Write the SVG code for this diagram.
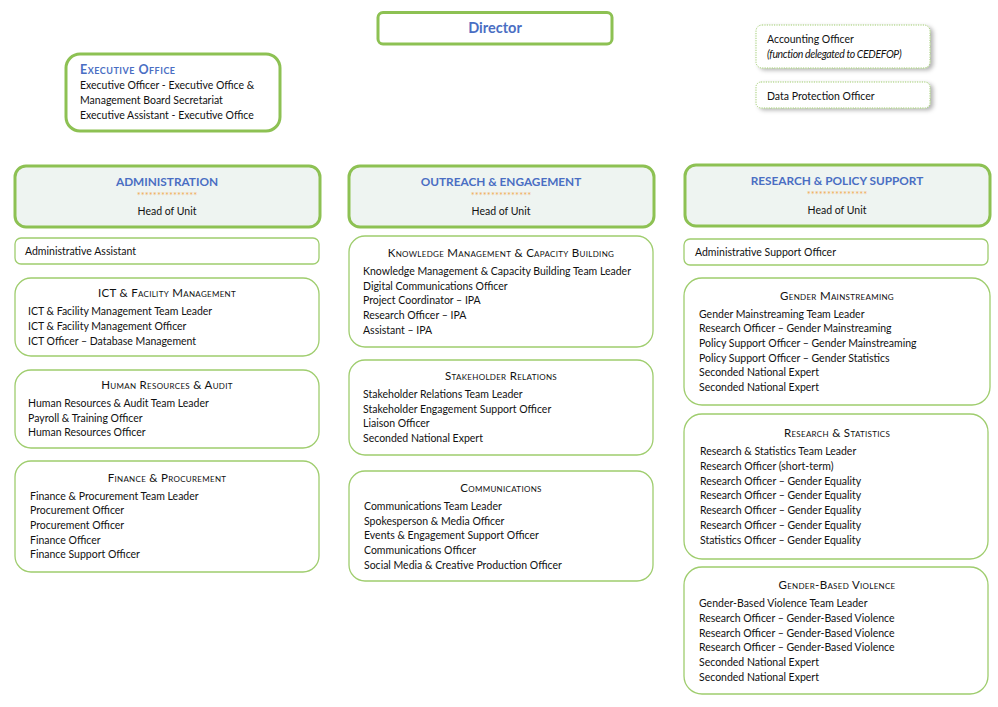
<svg xmlns="http://www.w3.org/2000/svg" width="998" height="707" viewBox="0 0 998 707">
<defs>
<filter id="sh" x="-10%" y="-20%" width="125%" height="160%">
<feDropShadow dx="3" dy="2" stdDeviation="2" flood-color="#000" flood-opacity="0.3"/>
</filter>
</defs>
<style>
text{font-family:Lato,"Liberation Sans",sans-serif;font-size:10.5px;fill:#111}
.thick{fill:#fff;stroke:#8dc153;stroke-width:3}
.head{fill:#eef4f1;stroke:#8dc153;stroke-width:3}
.thin{fill:#fff;stroke:#9fcd6e;stroke-width:1.3}
.dot{fill:#fff;stroke:#9fcd6e;stroke-width:1;stroke-dasharray:1.2 1.2}
.blue{fill:#4a6ec3;font-weight:bold}
.unit{fill:#4a6ec3;font-weight:bold;font-size:11.8px;text-anchor:middle}
.star{fill:#f0ad5a;font-size:9.5px;text-anchor:middle}
.c{text-anchor:middle}
.sc{font-variant:small-caps;text-anchor:middle;font-size:11.5px;letter-spacing:0.3px}
.dir{font-size:14.5px;text-anchor:middle}
.eo{font-variant:small-caps;font-size:12.5px;letter-spacing:0.5px}
.it{font-style:italic;font-size:10.5px;letter-spacing:-0.35px}
</style>
<g id="connectors"/>
<g id="director">
<rect class="thick" x="378" y="12.5" width="234" height="31.5" rx="5"/>
<text class="blue dir" x="495" y="33">Director</text>
</g>
<g id="accounting">
<rect class="dot" x="756" y="25" width="174" height="43" rx="6" filter="url(#sh)"/>
<text x="767" y="43">Accounting Officer</text>
<text class="it" x="767" y="58">(function delegated to CEDEFOP)</text>
</g>
<g id="dpo">
<rect class="dot" x="756" y="82" width="174" height="26" rx="5" filter="url(#sh)"/>
<text x="767" y="100">Data Protection Officer</text>
</g>
<g id="executive-office">
<rect class="thick" x="66" y="54" width="214" height="77" rx="14"/>
<text class="blue eo" x="80" y="74">Executive Office</text>
<text x="80" y="89">Executive Officer - Executive Office &amp;</text>
<text x="80" y="104">Management Board Secretariat</text>
<text x="80" y="119">Executive Assistant - Executive Office</text>
</g>
<g id="unit-administration">
<rect class="head" x="15" y="166" width="305" height="61" rx="11"/>
<text class="unit" x="167" y="186">ADMINISTRATION</text>
<text class="star" x="167" y="199">***************</text>
<text class="c" x="167" y="215">Head of Unit</text>
</g>
<g id="unit-outreach">
<rect class="head" x="349" y="166" width="305" height="61" rx="11"/>
<text class="unit" x="501" y="186">OUTREACH &amp; ENGAGEMENT</text>
<text class="star" x="501" y="199">***************</text>
<text class="c" x="501" y="215">Head of Unit</text>
</g>
<g id="unit-research">
<rect class="head" x="685" y="165" width="305" height="61" rx="11"/>
<text class="unit" x="837" y="185">RESEARCH &amp; POLICY SUPPORT</text>
<text class="star" x="837" y="198">***************</text>
<text class="c" x="837" y="214">Head of Unit</text>
</g>
<g id="admin-assistant">
<rect class="thin" x="15" y="238" width="304" height="26" rx="6"/>
<text x="25" y="255">Administrative Assistant</text>
</g>
<g id="ict">
<rect class="thin" x="15" y="278" width="304" height="78" rx="16"/>
<text class="sc" x="167" y="297">ICT &amp; Facility Management</text>
<text x="28" y="315">ICT &amp; Facility Management Team Leader</text>
<text x="28" y="330">ICT &amp; Facility Management Officer</text>
<text x="28" y="345">ICT Officer – Database Management</text>
</g>
<g id="hr">
<rect class="thin" x="15" y="370" width="304" height="78" rx="16"/>
<text class="sc" x="167" y="389">Human Resources &amp; Audit</text>
<text x="28" y="407">Human Resources &amp; Audit Team Leader</text>
<text x="28" y="422">Payroll &amp; Training Officer</text>
<text x="28" y="436">Human Resources Officer</text>
</g>
<g id="finance">
<rect class="thin" x="15" y="461" width="304" height="111" rx="16"/>
<text class="sc" x="167" y="482">Finance &amp; Procurement</text>
<text x="30" y="500">Finance &amp; Procurement Team Leader</text>
<text x="30" y="514">Procurement Officer</text>
<text x="30" y="529">Procurement Officer</text>
<text x="30" y="544">Finance Officer</text>
<text x="30" y="558">Finance Support Officer</text>
</g>
<g id="km">
<rect class="thin" x="349" y="236" width="304" height="111" rx="16"/>
<text class="sc" x="501" y="257">Knowledge Management &amp; Capacity Building</text>
<text x="363" y="275">Knowledge Management &amp; Capacity Building Team Leader</text>
<text x="363" y="290">Digital Communications Officer</text>
<text x="363" y="304">Project Coordinator – IPA</text>
<text x="363" y="319">Research Officer – IPA</text>
<text x="363" y="334">Assistant – IPA</text>
</g>
<g id="stakeholder">
<rect class="thin" x="349" y="360" width="304" height="95" rx="16"/>
<text class="sc" x="501" y="380">Stakeholder Relations</text>
<text x="363" y="398">Stakeholder Relations Team Leader</text>
<text x="363" y="413">Stakeholder Engagement Support Officer</text>
<text x="363" y="427">Liaison Officer</text>
<text x="363" y="442">Seconded National Expert</text>
</g>
<g id="communications">
<rect class="thin" x="349" y="471" width="304" height="110" rx="16"/>
<text class="sc" x="501" y="492">Communications</text>
<text x="364" y="510">Communications Team Leader</text>
<text x="364" y="525">Spokesperson &amp; Media Officer</text>
<text x="364" y="539">Events &amp; Engagement Support Officer</text>
<text x="364" y="554">Communications Officer</text>
<text x="364" y="569">Social Media &amp; Creative Production Officer</text>
</g>
<g id="admin-support">
<rect class="thin" x="684" y="239" width="304" height="26" rx="6"/>
<text x="695" y="256">Administrative Support Officer</text>
</g>
<g id="gender-mainstreaming">
<rect class="thin" x="684" y="278" width="306" height="127" rx="18"/>
<text class="sc" x="837" y="300">Gender Mainstreaming</text>
<text x="699" y="318">Gender Mainstreaming Team Leader</text>
<text x="699" y="332">Research Officer – Gender Mainstreaming</text>
<text x="699" y="347">Policy Support Officer – Gender Mainstreaming</text>
<text x="699" y="362">Policy Support Officer – Gender Statistics</text>
<text x="699" y="376">Seconded National Expert</text>
<text x="699" y="391">Seconded National Expert</text>
</g>
<g id="research-statistics">
<rect class="thin" x="684" y="414" width="304" height="145" rx="18"/>
<text class="sc" x="837" y="437">Research &amp; Statistics</text>
<text x="700" y="455">Research &amp; Statistics Team Leader</text>
<text x="700" y="470">Research Officer (short-term)</text>
<text x="700" y="485">Research Officer – Gender Equality</text>
<text x="700" y="499">Research Officer – Gender Equality</text>
<text x="700" y="514">Research Officer – Gender Equality</text>
<text x="700" y="529">Research Officer – Gender Equality</text>
<text x="700" y="544">Statistics Officer – Gender Equality</text>
</g>
<g id="gbv">
<rect class="thin" x="684" y="567" width="304" height="127" rx="18"/>
<text class="sc" x="837" y="589">Gender-Based Violence</text>
<text x="699" y="607">Gender-Based Violence Team Leader</text>
<text x="699" y="622">Research Officer – Gender-Based Violence</text>
<text x="699" y="637">Research Officer – Gender-Based Violence</text>
<text x="699" y="651">Research Officer – Gender-Based Violence</text>
<text x="699" y="666">Seconded National Expert</text>
<text x="699" y="681">Seconded National Expert</text>
</g>
</svg>
